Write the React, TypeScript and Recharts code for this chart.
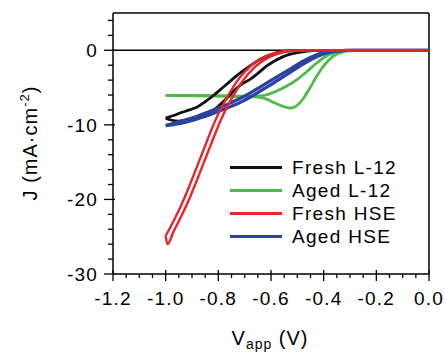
import React from "react";
import { LineChart, Line, XAxis, YAxis, ReferenceLine, Legend } from "recharts";

type Pt = [number, number];

const BLACK = "#111111";
const GREEN = "#4dbb4a";
const RED = "#e6262b";
const BLUE = "#2c42a0";
const FONT = "'Liberation Sans', Arial, sans-serif";

// axis ticks: labelled majors plus unlabelled minors
const xMajor = [-1.2, -1.0, -0.8, -0.6, -0.4, -0.2, 0];
const xTicks = [
  -1.2, -1.15, -1.1, -1.05, -1.0, -0.95, -0.9, -0.85, -0.8, -0.75, -0.7, -0.65,
  -0.6, -0.55, -0.5, -0.45, -0.4, -0.35, -0.3, -0.25, -0.2, -0.15, -0.1, -0.05, 0,
];
const yMajor = [-30, -20, -10, 0];
const yTicks = [
  -30, -28, -26, -24, -22, -20, -18, -16, -14, -12, -10, -8, -6, -4, -2, 0, 2, 4,
];

// each LSV curve is a loop: two scan branches, [V, mA/cm2]
const freshL12Lower: Pt[] = [
  [-1.0, -9.1], [-0.98, -9.35], [-0.95, -9.5], [-0.92, -9.45], [-0.89, -9.15],
  [-0.86, -8.8], [-0.83, -8.3], [-0.8, -7.5], [-0.77, -6.5], [-0.74, -5.4],
  [-0.71, -4.5], [-0.68, -3.9], [-0.65, -3.1], [-0.62, -2.2], [-0.59, -1.5],
  [-0.56, -0.95], [-0.53, -0.55], [-0.5, -0.3], [-0.46, -0.1], [-0.42, -0.02],
  [-0.38, 0], [0, 0],
];
const freshL12Upper: Pt[] = [
  [-1.0, -9.1], [-0.97, -8.75], [-0.94, -8.35], [-0.91, -8.0], [-0.88, -7.6],
  [-0.85, -6.9], [-0.82, -6.1], [-0.79, -5.2], [-0.76, -4.3], [-0.73, -3.4],
  [-0.7, -2.6], [-0.67, -1.85], [-0.64, -1.2], [-0.61, -0.7], [-0.58, -0.35],
  [-0.55, -0.15], [-0.5, -0.04], [-0.45, 0], [0, 0],
];
const agedL12Upper: Pt[] = [
  [-1.0, -6.05], [-0.9, -6.05], [-0.8, -6.1], [-0.7, -6.15], [-0.64, -6.1],
  [-0.61, -5.9], [-0.58, -5.5], [-0.54, -4.8], [-0.5, -3.9], [-0.46, -2.75],
  [-0.43, -1.8], [-0.4, -1.0], [-0.37, -0.45], [-0.34, -0.15], [-0.3, -0.02],
  [-0.27, 0], [0, 0],
];
const agedL12Dip: Pt[] = [
  [-1.0, -6.05], [-0.9, -6.1], [-0.8, -6.15], [-0.7, -6.2], [-0.66, -6.25],
  [-0.62, -6.5], [-0.59, -7.0], [-0.56, -7.45], [-0.53, -7.75], [-0.51, -7.6],
  [-0.48, -6.6], [-0.46, -5.5], [-0.44, -4.3], [-0.42, -3.1], [-0.4, -2.1],
  [-0.38, -1.3], [-0.36, -0.7], [-0.33, -0.25], [-0.3, -0.07], [-0.27, 0], [0, 0],
];
const freshHseA: Pt[] = [
  [-1.0, -24.9], [-0.97, -22.9], [-0.94, -20.7], [-0.91, -18.2], [-0.88, -15.5],
  [-0.85, -12.8], [-0.82, -10.1], [-0.79, -7.8], [-0.76, -5.9], [-0.73, -4.2],
  [-0.7, -2.9], [-0.67, -1.9], [-0.64, -1.15], [-0.61, -0.65], [-0.58, -0.32],
  [-0.55, -0.13], [-0.5, -0.02], [-0.45, 0], [0, 0],
];
const freshHseB: Pt[] = [
  [-1.0, -24.9], [-0.993, -26.0], [-0.97, -24.3], [-0.94, -22.2], [-0.91, -19.9],
  [-0.88, -17.3], [-0.85, -14.6], [-0.82, -11.9], [-0.79, -9.3], [-0.76, -7.15],
  [-0.73, -5.3], [-0.7, -3.75], [-0.67, -2.55], [-0.64, -1.65], [-0.61, -1.0],
  [-0.58, -0.55], [-0.55, -0.25], [-0.52, -0.1], [-0.48, -0.03], [-0.44, 0], [0, 0],
];
const agedHseLower: Pt[] = [
  [-1.0, -10.1], [-0.96, -9.9], [-0.92, -9.6], [-0.88, -9.2], [-0.84, -8.75],
  [-0.8, -8.2], [-0.76, -7.65], [-0.72, -7.05], [-0.68, -6.3], [-0.64, -5.45],
  [-0.6, -4.6], [-0.56, -3.7], [-0.52, -2.8], [-0.48, -1.9], [-0.44, -1.1],
  [-0.4, -0.48], [-0.36, -0.15], [-0.32, -0.03], [-0.29, 0], [0, 0],
];
const agedHseUpper: Pt[] = [
  [-1.0, -10.1], [-0.96, -9.7], [-0.92, -9.3], [-0.88, -8.85], [-0.84, -8.3],
  [-0.8, -7.75], [-0.76, -7.15], [-0.72, -6.5], [-0.68, -5.75], [-0.64, -4.9],
  [-0.6, -4.05], [-0.56, -3.2], [-0.52, -2.35], [-0.48, -1.5], [-0.44, -0.8],
  [-0.4, -0.32], [-0.36, -0.09], [-0.32, -0.02], [-0.29, 0], [0, 0],
];

const legendNames = ["Fresh L-12", "Aged L-12", "Fresh HSE", "Aged HSE"];
const legendColors = [BLACK, GREEN, RED, BLUE];

const toPts = (a: Pt[]) => a.map(([v, j]) => ({ v, j }));
const near = (list: number[], v: number) => list.some((m) => Math.abs(m - v) < 1e-6);

function XTick({ x, y, payload }: any) {
  const major = near(xMajor, payload.value);
  return (
    <g>
      <line x1={x} x2={x} y1={major ? y - 4 : y} y2={major ? y + 7 : y + 4} stroke="#000" strokeWidth={1.3} />
      {major && (
        <text x={x} y={y + 31} textAnchor="middle" fontFamily={FONT} fontSize={19} letterSpacing={1.2} fill="#000">
          {payload.value.toFixed(1)}
        </text>
      )}
    </g>
  );
}

function YTick({ x, y, payload }: any) {
  const major = near(yMajor, payload.value);
  return (
    <g>
      <line x1={major ? x - 9 : x - 5} x2={major ? x + 2 : x} y1={y} y2={y} stroke="#000" strokeWidth={1.3} />
      {major && (
        <text x={x - 15} y={y + 7} textAnchor="end" fontFamily={FONT} fontSize={19} letterSpacing={1.2} fill="#000">
          {payload.value}
        </text>
      )}
    </g>
  );
}

function XTitle() {
  return (
    <text x={270} y={345} textAnchor="middle" fontFamily={FONT} fontSize={20} letterSpacing={1} fill="#000">
      V<tspan dy={4} fontSize={14}>app</tspan>
      <tspan dy={-4}> (V)</tspan>
    </text>
  );
}

function YTitle() {
  return (
    <text x={37} y={143} transform="rotate(-90 37 143)" textAnchor="middle" fontFamily={FONT} fontSize={20} letterSpacing={1} fill="#000">
      J (mA·cm<tspan dy={-8} fontSize={13}>-2</tspan>
      <tspan dy={8}>)</tspan>
    </text>
  );
}

function LegendBox() {
  return (
    <div style={{ fontFamily: FONT, fontSize: 19, letterSpacing: 1.3, color: "#000" }}>
      {legendNames.map((name, i) => (
        <div key={name} style={{ display: "flex", alignItems: "center", height: 23 }}>
          <svg width={66} height={23}>
            <line x1={4} x2={56} y1={11.5} y2={11.5} stroke={legendColors[i]} strokeWidth={3} />
          </svg>
          <span>{name}</span>
        </div>
      ))}
    </div>
  );
}

const branch = (data: Pt[], color: string, width: number, key: string) => (
  <Line
    key={key}
    data={toPts(data)}
    dataKey="j"
    type="monotone"
    stroke={color}
    strokeWidth={width}
    dot={false}
    activeDot={false}
    legendType="none"
    isAnimationActive={false}
  />
);

export default function App() {
  return (
    <div style={{ position: "absolute", left: 0, top: 0 }}>
      <LineChart width={445} height={354} margin={{ top: 13, right: 16, bottom: 0, left: 0 }}>
        <XAxis
          type="number"
          dataKey="v"
          domain={[-1.2, 0]}
          ticks={xTicks}
          interval={0}
          tickSize={0}
          tickMargin={0}
          tick={<XTick />}
          tickLine={false}
          axisLine={{ stroke: "#000", strokeWidth: 1.5 }}
          height={80}
          label={<XTitle />}
          allowDataOverflow
        />
        <YAxis
          type="number"
          domain={[-30, 5]}
          ticks={yTicks}
          interval={0}
          tickSize={0}
          tickMargin={0}
          tick={<YTick />}
          tickLine={false}
          axisLine={{ stroke: "#000", strokeWidth: 1.5 }}
          width={113}
          label={<YTitle />}
          allowDataOverflow
        />
        <ReferenceLine y={5} stroke="#000" strokeWidth={1.5} />
        <ReferenceLine x={0} stroke="#000" strokeWidth={1.5} />
        <ReferenceLine y={0} stroke="#000" strokeWidth={1.5} />
        {branch(agedL12Upper, GREEN, 2.8, "g1")}
        {branch(agedL12Dip, GREEN, 2.8, "g2")}
        {branch(freshL12Upper, BLACK, 2.8, "k1")}
        {branch(freshL12Lower, BLACK, 2.8, "k2")}
        {branch(agedHseLower, BLUE, 3.2, "b1")}
        {branch(agedHseUpper, BLUE, 3.2, "b2")}
        {branch(freshHseA, RED, 2.4, "r1")}
        {branch(freshHseB, RED, 2.4, "r2")}
        <Legend
          layout="vertical"
          align="center"
          verticalAlign="middle"
          content={<LegendBox />}
          wrapperStyle={{ left: 226, top: 156, width: 210 }}
        />
      </LineChart>
    </div>
  );
}
